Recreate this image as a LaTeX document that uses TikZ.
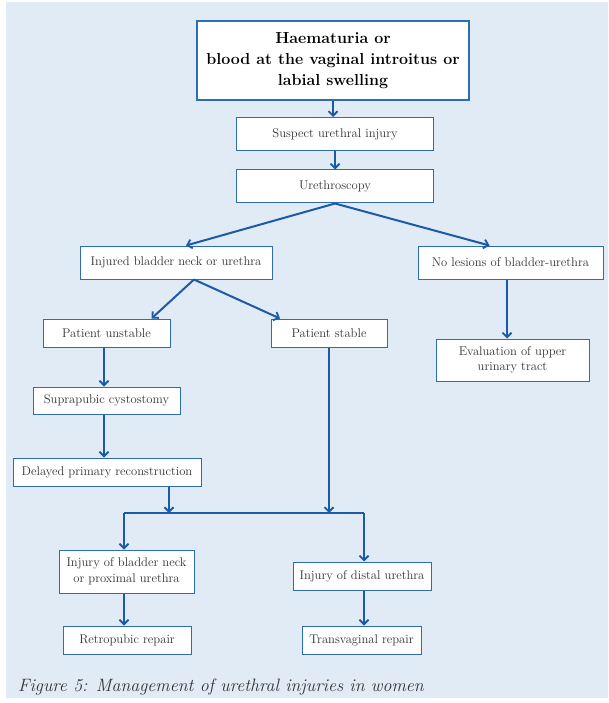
\documentclass[tikz,border=0pt]{standalone}
\usetikzlibrary{arrows.meta,calc}
\definecolor{panel}{HTML}{E1EBF6}
\definecolor{boxblue}{HTML}{2E6DB4}
\definecolor{arrowblue}{HTML}{1B5BA6}
\definecolor{textgray}{HTML}{333333}
\begin{document}
\begin{tikzpicture}[x=1pt,y=-1pt,
  box/.style={draw=boxblue, fill=white, line width=1pt, text=textgray,
    align=center, inner sep=0pt, font=\fontsize{12.6}{15.5}\selectfont},
  headbox/.style={box, line width=1.8pt, text=black,
    font=\fontsize{16}{21}\selectfont\bfseries},
  arr/.style={draw=arrowblue, line width=2pt,
    -{Straight Barb[length=4.5pt,width=9pt,line width=1.8pt]}},
  link/.style={draw=arrowblue, line width=2pt}]
\useasboundingbox (0,0) rectangle (608,703);
\fill[white] (0,0) rectangle (608,703);
\fill[panel] (6,2) rectangle (608,698);

% boxes
\node[headbox, minimum width=272, minimum height=79] (top) at (333,60.5)
  {Haematuria or\\blood at the vaginal introitus or\\labial swelling};
\node[box, minimum width=197, minimum height=33] (suspect) at (335,134) {Suspect urethral injury};
\node[box, minimum width=197, minimum height=33] (scopy) at (335,186.5) {Urethroscopy};
\node[box, minimum width=192, minimum height=33] (injured) at (176,262.5) {Injured bladder neck or urethra};
\node[box, minimum width=185, minimum height=33] (nolesion) at (510.5,262.5) {No lesions of bladder-urethra};
\node[box, minimum width=153, minimum height=42] (upper) at (512.5,360) {Evaluation of upper\\urinary tract};
\node[box, minimum width=127, minimum height=28] (unstable) at (106.5,333) {Patient unstable};
\node[box, minimum width=116, minimum height=28] (stable) at (329,333) {Patient stable};
\node[box, minimum width=147, minimum height=27] (supra) at (106.5,400.5) {Suprapubic cystostomy};
\node[box, minimum width=188, minimum height=28] (delayed) at (107,472) {Delayed primary reconstruction};
\node[box, minimum width=135, minimum height=43] (proximal) at (126.5,571.5) {Injury of bladder neck\\or proximal urethra};
\node[box, minimum width=138, minimum height=28] (distal) at (362,576) {Injury of distal urethra};
\node[box, minimum width=128, minimum height=28] (retro) at (127,640) {Retropubic repair};
\node[box, minimum width=119, minimum height=28] (transv) at (361.5,640) {Transvaginal repair};

% junction points of the lower merge bar and the forks
\coordinate (barL) at (124,513);
\coordinate (barR) at (364,513);
\coordinate (fork) at ($(injured.south)+(18,0)$);
\coordinate (dout) at ($(delayed.south)+(62,0)$);
\coordinate (nout) at ($(nolesion.south)+(-3.5,0)$);

% connectors
\draw[arr] (top.south) -- (top.south |- suspect.north);
\draw[arr] (suspect.south) -- (scopy.north);
\draw[arr] (scopy.south) -- ($(injured.north)+(10,0)$);
\draw[arr] (scopy.south) -- ($(nolesion.north)+(-21,0)$);
\draw[arr] (fork) -- ($(unstable.north)+(45,0)$);
\draw[arr] (fork) -- ($(stable.north)+(-49,0)$);
\draw[arr] (nout) -- (nout |- upper.north);
\draw[arr] ($(unstable.south)+(-2.5,0)$) -- ($(supra.north)+(-2.5,0)$);
\draw[arr] ($(supra.south)+(-2.5,0)$) -- ($(delayed.north)+(-3,0)$);
\draw[arr] (dout) -- (dout |- barL);
\draw[arr] (stable.south) -- (stable.south |- barL);
\draw[link] (barL) -- (barR);
\draw[arr] (barL) -- (barL |- proximal.north);
\draw[arr] (barR) -- (barR |- distal.north);
\draw[arr] (barL |- proximal.south) -- (barL |- retro.north);
\draw[arr] (barR |- distal.south) -- (barR |- transv.north);

% caption
\node[anchor=base west, text=textgray, inner sep=0pt,
  font=\fontsize{17.9}{20}\selectfont\itshape] (caption) at (18,691)
  {Figure 5: Management of urethral injuries in women};
\end{tikzpicture}
\end{document}
